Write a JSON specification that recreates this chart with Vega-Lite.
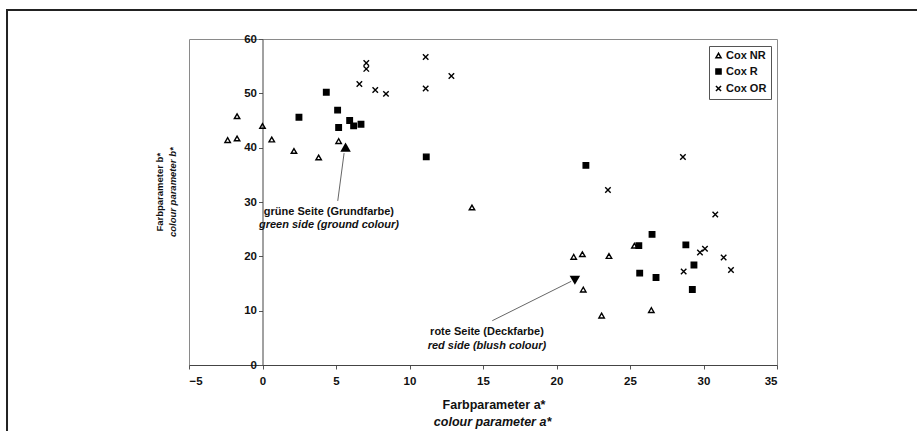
{
  "$schema": "https://vega.github.io/schema/vega-lite/v6.json",
  "autosize": "none",
  "width": 588,
  "height": 326,
  "padding": {"left": 189, "top": 39, "right": 140, "bottom": 66},
  "background": "white",
  "config": {
    "font": "Liberation Sans",
    "view": {"stroke": "#8a8a8a", "strokeWidth": 1},
    "axis": {"grid": false, "labelFont": "Liberation Sans", "labelFontWeight": "bold", "labelFontSize": 11.5, "labelColor": "#111", "domainColor": "#555", "tickColor": "#555"}
  },
  "layer": [
    {
      "data": {"values": [{"a": -17.38, "a2": 60, "b": 65.34, "b2": -20}]},
      "mark": {"type": "rect", "fill": null, "stroke": "#222", "strokeWidth": 2, "clip": false},
      "encoding": {
        "x": {"field": "a", "type": "quantitative", "title": null},
        "x2": {"field": "a2"},
        "y": {"field": "b", "type": "quantitative", "title": null},
        "y2": {"field": "b2"}
      }
    },
    {
      "data": {"values": [
        {"series": "Cox NR", "a": -2.37, "b": 41.4},
        {"series": "Cox NR", "a": -1.73, "b": 45.8},
        {"series": "Cox NR", "a": -1.73, "b": 41.7},
        {"series": "Cox NR", "a": 0.0, "b": 44.0},
        {"series": "Cox NR", "a": 0.63, "b": 41.5},
        {"series": "Cox NR", "a": 2.14, "b": 39.4},
        {"series": "Cox NR", "a": 3.82, "b": 38.2},
        {"series": "Cox NR", "a": 5.18, "b": 41.2},
        {"series": "Cox NR", "a": 14.25, "b": 29.0},
        {"series": "Cox NR", "a": 21.17, "b": 19.9},
        {"series": "Cox NR", "a": 21.76, "b": 20.4},
        {"series": "Cox NR", "a": 23.57, "b": 20.06},
        {"series": "Cox NR", "a": 25.3, "b": 21.96},
        {"series": "Cox NR", "a": 21.82, "b": 13.87},
        {"series": "Cox NR", "a": 23.07, "b": 9.1},
        {"series": "Cox NR", "a": 26.45, "b": 10.1},
        {"series": "Cox R", "a": 2.48, "b": 45.6},
        {"series": "Cox R", "a": 4.34, "b": 50.2},
        {"series": "Cox R", "a": 5.11, "b": 46.9},
        {"series": "Cox R", "a": 5.18, "b": 43.7},
        {"series": "Cox R", "a": 5.93, "b": 45.0},
        {"series": "Cox R", "a": 6.2, "b": 44.0},
        {"series": "Cox R", "a": 6.7, "b": 44.3},
        {"series": "Cox R", "a": 11.14, "b": 38.3},
        {"series": "Cox R", "a": 22.0, "b": 36.75},
        {"series": "Cox R", "a": 25.6, "b": 21.96},
        {"series": "Cox R", "a": 26.5, "b": 24.05},
        {"series": "Cox R", "a": 28.8, "b": 22.1},
        {"series": "Cox R", "a": 29.35, "b": 18.4},
        {"series": "Cox R", "a": 25.66, "b": 16.9},
        {"series": "Cox R", "a": 26.77, "b": 16.1},
        {"series": "Cox R", "a": 29.24, "b": 13.9},
        {"series": "Cox OR", "a": 7.06, "b": 55.6},
        {"series": "Cox OR", "a": 7.06, "b": 54.5},
        {"series": "Cox OR", "a": 6.59, "b": 51.7},
        {"series": "Cox OR", "a": 7.67, "b": 50.6},
        {"series": "Cox OR", "a": 8.4, "b": 49.9},
        {"series": "Cox OR", "a": 11.1, "b": 56.7},
        {"series": "Cox OR", "a": 11.1, "b": 50.9},
        {"series": "Cox OR", "a": 12.85, "b": 53.2},
        {"series": "Cox OR", "a": 28.6, "b": 38.3},
        {"series": "Cox OR", "a": 23.5, "b": 32.2},
        {"series": "Cox OR", "a": 30.8, "b": 27.7},
        {"series": "Cox OR", "a": 29.76, "b": 20.7},
        {"series": "Cox OR", "a": 30.1, "b": 21.4},
        {"series": "Cox OR", "a": 31.37, "b": 19.8},
        {"series": "Cox OR", "a": 31.87, "b": 17.5},
        {"series": "Cox OR", "a": 28.65, "b": 17.2}
      ]},
      "mark": {"type": "point", "strokeWidth": 1.4, "size": 30, "opacity": 1, "stroke": "black"},
      "encoding": {
        "x": {
          "field": "a", "type": "quantitative", "title": null,
          "scale": {"domain": [-5, 35], "nice": false, "zero": false},
          "axis": {"values": [-5, 0, 5, 10, 15, 20, 25, 30, 35], "tickSize": 4, "labelPadding": 6, "domainColor": "#444"}
        },
        "y": {
          "field": "b", "type": "quantitative", "title": null,
          "scale": {"domain": [0, 60], "nice": false, "zero": false},
          "axis": {"values": [0, 10, 20, 30, 40, 50, 60], "offset": -73.5, "tickSize": 4, "labelPadding": 2, "domainColor": "#444"}
        },
        "shape": {
          "field": "series", "type": "nominal", "title": null,
          "scale": {"domain": ["Cox NR", "Cox R", "Cox OR"], "range": ["triangle-up", "square", "M-1,-1L1,1M-1,1L1,-1"]},
          "legend": {
            "orient": "none", "legendX": 520, "legendY": 7, "direction": "vertical",
            "strokeColor": "#555", "fillColor": "white", "padding": 4, "rowPadding": 4,
            "labelFont": "Liberation Sans", "labelFontWeight": "bold", "labelFontSize": 11, "labelColor": "#111",
            "symbolSize": 26, "labelOffset": 2,
            "encode": {"symbols": {"update": {"stroke": {"value": "black"}, "strokeWidth": {"value": 1.3}}}}
          }
        },
        "fill": {
          "field": "series", "type": "nominal", "title": null,
          "scale": {"domain": ["Cox NR", "Cox R", "Cox OR"], "range": ["transparent", "black", "transparent"]}
        }
      }
    },
    {
      "data": {"values": [
        {"a": 5.12, "b": 30.2, "a2": 5.55, "b2": 39.0},
        {"a": 15.63, "b": 8.15, "a2": 21.0, "b2": 15.4}
      ]},
      "mark": {"type": "rule", "color": "#666", "strokeWidth": 1},
      "encoding": {
        "x": {"field": "a", "type": "quantitative", "title": null},
        "y": {"field": "b", "type": "quantitative", "title": null},
        "x2": {"field": "a2"},
        "y2": {"field": "b2"}
      }
    },
    {
      "data": {"values": [{"a": 5.65, "b": 40.1}]},
      "mark": {"type": "point", "shape": "triangle-up", "filled": true, "color": "black", "size": 110, "opacity": 1},
      "encoding": {
        "x": {"field": "a", "type": "quantitative", "title": null},
        "y": {"field": "b", "type": "quantitative", "title": null}
      }
    },
    {
      "data": {"values": [{"a": 21.25, "b": 15.6}]},
      "mark": {"type": "point", "shape": "triangle-down", "filled": true, "color": "black", "size": 110, "opacity": 1},
      "encoding": {
        "x": {"field": "a", "type": "quantitative", "title": null},
        "y": {"field": "b", "type": "quantitative", "title": null}
      }
    },
    {
      "data": {"values": [
        {"a": 4.52, "b": 28.2, "label": "grüne Seite (Grundfarbe)"},
        {"a": 15.27, "b": 6.02, "label": "rote Seite (Deckfarbe)"}
      ]},
      "mark": {"type": "text", "font": "Liberation Sans", "fontWeight": "bold", "fontSize": 11, "color": "#111", "align": "center", "baseline": "middle"},
      "encoding": {
        "x": {"field": "a", "type": "quantitative", "title": null},
        "y": {"field": "b", "type": "quantitative", "title": null},
        "text": {"field": "label"}
      }
    },
    {
      "data": {"values": [
        {"a": 4.52, "b": 25.8, "label": "green side (ground colour)"},
        {"a": 15.27, "b": 3.5, "label": "red side (blush colour)"}
      ]},
      "mark": {"type": "text", "font": "Liberation Sans", "fontWeight": "bold", "fontStyle": "italic", "fontSize": 11, "color": "#111", "align": "center", "baseline": "middle"},
      "encoding": {
        "x": {"field": "a", "type": "quantitative", "title": null},
        "y": {"field": "b", "type": "quantitative", "title": null},
        "text": {"field": "label"}
      }
    },
    {
      "data": {"values": [{"a": 15.75, "b": -7.36, "label": "Farbparameter a*"}]},
      "mark": {"type": "text", "font": "Liberation Sans", "fontWeight": "bold", "fontSize": 12.5, "color": "#111", "align": "center", "baseline": "middle"},
      "encoding": {
        "x": {"field": "a", "type": "quantitative", "title": null},
        "y": {"field": "b", "type": "quantitative", "title": null},
        "text": {"field": "label"}
      }
    },
    {
      "data": {"values": [{"a": 15.65, "b": -10.5, "label": "colour parameter a*"}]},
      "mark": {"type": "text", "font": "Liberation Sans", "fontWeight": "bold", "fontStyle": "italic", "fontSize": 12.5, "color": "#111", "align": "center", "baseline": "middle"},
      "encoding": {
        "x": {"field": "a", "type": "quantitative", "title": null},
        "y": {"field": "b", "type": "quantitative", "title": null},
        "text": {"field": "label"}
      }
    },
    {
      "data": {"values": [{"a": -6.97, "b": 31.8, "label": "Farbparameter b*"}]},
      "mark": {"type": "text", "font": "Liberation Sans", "fontWeight": "bold", "fontSize": 9.5, "color": "#111", "align": "center", "baseline": "middle", "angle": 270},
      "encoding": {
        "x": {"field": "a", "type": "quantitative", "title": null},
        "y": {"field": "b", "type": "quantitative", "title": null},
        "text": {"field": "label"}
      }
    },
    {
      "data": {"values": [{"a": -6.1, "b": 31.8, "label": "colour parameter b*"}]},
      "mark": {"type": "text", "font": "Liberation Sans", "fontWeight": "bold", "fontStyle": "italic", "fontSize": 9.5, "color": "#111", "align": "center", "baseline": "middle", "angle": 270},
      "encoding": {
        "x": {"field": "a", "type": "quantitative", "title": null},
        "y": {"field": "b", "type": "quantitative", "title": null},
        "text": {"field": "label"}
      }
    }
  ]
}
